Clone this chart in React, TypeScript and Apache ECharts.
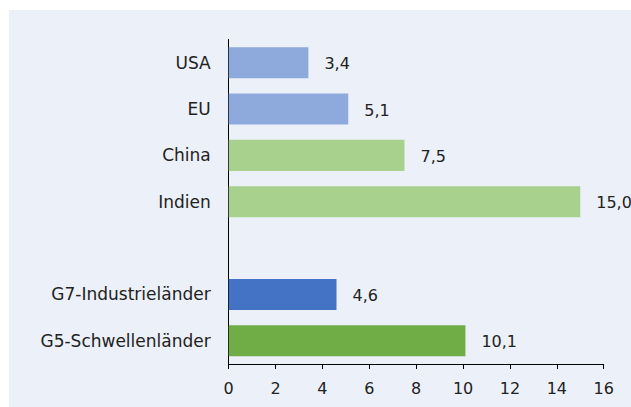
import React, { useEffect, useRef } from "react";
import * as echarts from "echarts";

const categories = ["USA", "EU", "China", "Indien", "", "G7-Industrieländer", "G5-Schwellenländer"];
const values: (number | null)[] = [3.4, 5.1, 7.5, 15.0, null, 4.6, 10.1];
const barColors = ["#8EA9DB", "#8EA9DB", "#A9D18E", "#A9D18E", "#A9D18E", "#4472C4", "#70AD47"];
const xTicks = [0, 2, 4, 6, 8, 10, 12, 14, 16];

const FONT = "DejaVu Sans";

export default function App() {
  const ref = useRef<HTMLDivElement>(null);
  useEffect(() => {
    if (!ref.current) return;
    const chart = echarts.init(ref.current, null, { renderer: "svg" });
    chart.setOption({
      animation: false,
      backgroundColor: "#ECF0F8",
      grid: { left: 219.7, right: 27.3, top: 29.5, bottom: 43, containLabel: false },
      xAxis: {
        type: "value",
        min: xTicks[0],
        max: xTicks[xTicks.length - 1],
        interval: 2,
        splitLine: { show: false },
        axisLine: { show: true, lineStyle: { color: "#000", width: 1 } },
        axisTick: { show: true, length: 5, lineStyle: { color: "#000" } },
        axisLabel: { color: "#222", fontSize: 16, fontFamily: FONT, margin: 16 },
      },
      yAxis: {
        type: "category",
        data: categories,
        inverse: true,
        axisLine: { show: true, lineStyle: { color: "#000", width: 1 } },
        axisTick: { show: false },
        axisLabel: { color: "#222", fontSize: 17, fontFamily: FONT, margin: 18 },
      },
      series: [
        {
          type: "bar",
          barWidth: "67%",
          data: values.map((v, i) => ({ value: v, itemStyle: { color: barColors[i] } })),
          label: {
            show: true,
            position: "right",
            distance: 16,
            offset: [0, 1],
            color: "#222",
            fontSize: 16,
            fontFamily: FONT,
            formatter: (p: any) => (p.value == null ? "" : Number(p.value).toFixed(1).replace(".", ",")),
          },
        },
      ],
    });
    return () => chart.dispose();
  }, []);
  return (
    <div
      ref={ref}
      style={{ position: "absolute", left: 9, top: 10, width: 622, height: 397 }}
    />
  );
}
